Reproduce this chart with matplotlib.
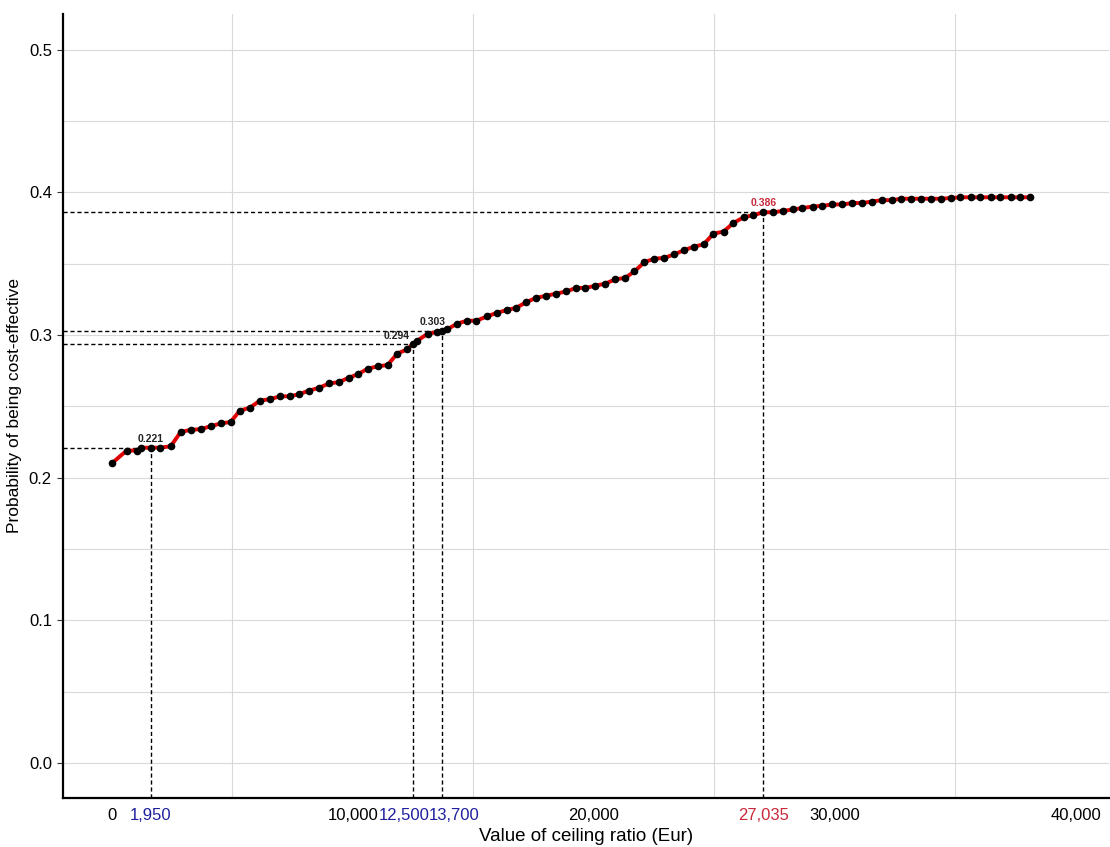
import numpy as np
import matplotlib.pyplot as plt
from matplotlib.ticker import MultipleLocator

# values
ceiling = [0, 620, 1040, 1200, 1620, 2000, 2450, 2860, 3270, 3690, 4100, 4520, 4930,
           5320, 5730, 6150, 6560, 6980, 7390, 7770, 8190, 8600, 9020, 9430, 9830,
           10220, 10630, 11050, 11450, 11850, 12270, 12500, 12680, 13120, 13510, 13700,
           13920, 14340, 14740, 15130, 15570, 15980, 16390, 16780, 17200, 17610, 18030,
           18440, 18860, 19270, 19660, 20070, 20480, 20900, 21300, 21690, 22100, 22520,
           22930, 23340, 23760, 24170, 24560, 24970, 25390, 25800, 26220, 26630, 27035,
           27450, 27860, 28280, 28660, 29080, 29490, 29900, 30320, 30730, 31150, 31540,
           31950, 32370, 32760, 33180, 33590, 33980, 34400, 34810, 35220, 35640, 36050,
           36470, 36880, 37300, 37710, 38100]
prob = [0.210, 0.219, 0.219, 0.221, 0.221, 0.221, 0.222, 0.232, 0.2335, 0.234, 0.236,
        0.238, 0.239, 0.247, 0.249, 0.254, 0.255, 0.257, 0.257, 0.2585, 0.261, 0.263,
        0.266, 0.267, 0.270, 0.2725, 0.2765, 0.278, 0.279, 0.287, 0.290, 0.294, 0.296,
        0.301, 0.302, 0.303, 0.304, 0.308, 0.310, 0.310, 0.313, 0.3155, 0.3175, 0.319,
        0.323, 0.326, 0.3275, 0.329, 0.3305, 0.333, 0.333, 0.3345, 0.336, 0.339, 0.340,
        0.3445, 0.351, 0.3535, 0.354, 0.3565, 0.3595, 0.362, 0.3635, 0.371, 0.3725,
        0.3785, 0.3825, 0.384, 0.386, 0.386, 0.387, 0.388, 0.389, 0.390, 0.3905, 0.3915,
        0.3915, 0.3925, 0.3925, 0.3935, 0.3945, 0.3945, 0.3955, 0.3955, 0.3955, 0.3955,
        0.3955, 0.396, 0.3965, 0.3965, 0.3965, 0.3965, 0.3965, 0.3965, 0.3965, 0.3965]

# highlighted thresholds
thr_x = [1620, 12500, 13700, 27035]
thr_y = [0.221, 0.294, 0.303, 0.386]
thr_xlabels = ['1,950', '12,500', '13,700', '27,035']
thr_ylabels = ['0.221', '0.294', '0.303', '0.386']

main_ticks = [0, 10000, 20000, 30000, 40000]
main_labels = ['0', '10,000', '20,000', '30,000', '40,000']

plt.rcParams['font.family'] = ['Liberation Sans', 'DejaVu Sans']

BLUE = '#1f1f9e'
RED = '#c8283a'
xmin, xmax = -2020, 41370
ymin, ymax = -0.0245, 0.525

fig = plt.figure(figsize=(11.1, 8.47), dpi=100)
ax = fig.add_axes([0.0568, 0.0579, 0.942, 0.9256])
ax.set_xlim(xmin, xmax)
ax.set_ylim(ymin, ymax)

# grid every 5000 / 0.05
ax.xaxis.set_minor_locator(MultipleLocator(5000))
ax.yaxis.set_minor_locator(MultipleLocator(0.05))
ax.grid(which='minor', color='#d9d9d9', lw=0.8)
ax.grid(which='major', axis='y', color='#d9d9d9', lw=0.8)
ax.tick_params(which='minor', length=0)
ax.set_axisbelow(True)

# dashed guide lines
for x, y in zip(thr_x, thr_y):
    ax.plot([xmin, x], [y, y], color='black', lw=1, ls=(0, (3, 2)), zorder=2)
    ax.plot([x, x], [ymin, y], color='black', lw=1, ls=(0, (3, 2)), zorder=2)

ax.plot(ceiling, prob, color='#e00000', lw=2.8, zorder=3)
ax.plot(ceiling, prob, 'o', color='black', ms=4.5, zorder=4)

# value labels above the points
offsets = [(0, 3), (-12, 2), (-7, 3), (0, 3)]
for x, y, lab, off in zip(thr_x, thr_y, thr_ylabels, offsets):
    c = RED if lab == '0.386' else '#222222'
    ax.annotate(lab, (x, y), xytext=off, textcoords='offset points',
                ha='center', va='bottom', fontsize=7.5, fontweight='bold', color=c)

ax.set_xticks(main_ticks)
ax.set_xticklabels(main_labels)
ax.tick_params(axis='x', which='major', length=0, pad=7, labelsize=12)

# threshold labels under the axis, the crowded pair pushed apart
label_shift = [0, -6.5, 9, 0]
for x, lab, dx in zip(thr_x, thr_xlabels, label_shift):
    c = RED if lab == '27,035' else BLUE
    ax.annotate(lab, (x, 0), xycoords=ax.get_xaxis_transform(), xytext=(dx, -7),
                textcoords='offset points', ha='center', va='top', fontsize=12, color=c)

ax.set_yticks([0.0, 0.1, 0.2, 0.3, 0.4, 0.5])
ax.set_yticklabels(['0.0', '0.1', '0.2', '0.3', '0.4', '0.5'])
ax.tick_params(axis='y', which='major', length=4, color='#333333', pad=4, labelsize=12)

for s in ['top', 'right']:
    ax.spines[s].set_visible(False)
for s in ['left', 'bottom']:
    ax.spines[s].set_linewidth(1.6)

ax.set_xlabel('Value of ceiling ratio (Eur)', fontsize=13.5, labelpad=4)
ax.set_ylabel('Probability of being cost-effective', fontsize=12.5, labelpad=5)

plt.savefig('out.png', dpi=100)
